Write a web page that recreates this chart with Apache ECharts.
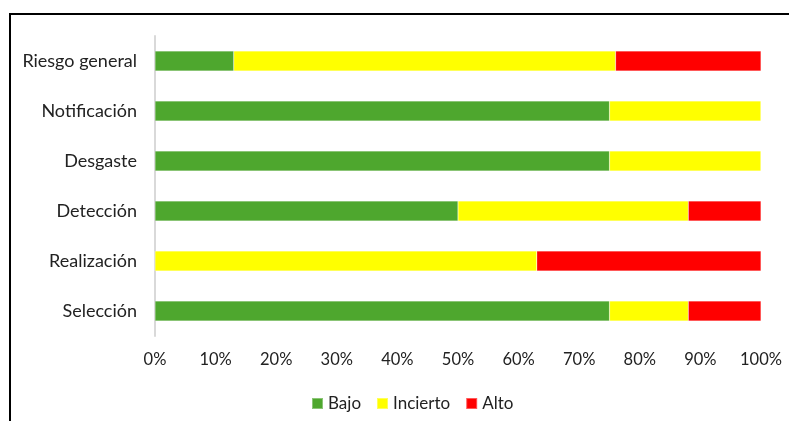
<!DOCTYPE html>
<html>
<head>
<meta charset="utf-8">
<script src="https://cdn.jsdelivr.net/npm/echarts@6/dist/echarts.min.js"></script>
<style>
  html, body { margin: 0; padding: 0; background: #fff; }
  #main { width: 789px; height: 421px; }
</style>
</head>
<body>
<div id="main"></div>
<script>
// categorias de abajo hacia arriba (el eje y de echarts empieza abajo)
var categorias = ['Selección', 'Realización', 'Detección', 'Desgaste', 'Notificación', 'Riesgo general'];
var bajo     = [75, 0, 50, 75, 75, 13];
var incierto = [13, 63, 38, 25, 25, 63];
var alto     = [12, 37, 12, 0, 0, 24];
var ticks = ['0%', '10%', '20%', '30%', '40%', '50%', '60%', '70%', '80%', '90%', '100%'];

var myChart = echarts.init(document.getElementById('main'));

var fuente = 'Lato';

function serie(nombre, datos, color) {
    return {
        name: nombre,
        type: 'bar',
        stack: 'total',
        barWidth: '40%',
        data: datos,
        itemStyle: { color: color, borderColor: 'rgba(255,255,255,0.35)', borderWidth: 0.5 }
    };
}

var option = {
    animation: false,
    textStyle: { fontFamily: fuente },
    graphic: [{
        type: 'rect',
        shape: { x: 10, y: 14, width: 800, height: 420 },
        style: { fill: 'none', stroke: '#000', lineWidth: 2 }
    }],
    grid: { left: 155, right: 28, top: 36, bottom: 85 },
    legend: {
        bottom: 4,
        left: 306,
        itemWidth: 11,
        itemHeight: 11,
        itemGap: 15,
        icon: 'rect',
        textStyle: { fontSize: 17, color: '#222', fontFamily: fuente },
        data: ['Bajo', 'Incierto', 'Alto']
    },
    xAxis: {
        type: 'value',
        min: 0,
        max: 100,
        interval: 10,
        axisLine: { show: false },
        axisTick: { show: false },
        splitLine: { show: false },
        axisLabel: {
            fontSize: 16.5,
            color: '#222',
            margin: 15,
            formatter: function (v) { return ticks[Math.round(v / 10)]; }
        }
    },
    yAxis: {
        type: 'category',
        data: categorias,
        axisLine: { show: true, lineStyle: { color: '#d9d9d9', width: 2 } },
        axisTick: { show: false },
        axisLabel: { fontSize: 18, color: '#222', margin: 18 }
    },
    series: [
        serie('Bajo', bajo, '#4ea72e'),
        serie('Incierto', incierto, '#ffff00'),
        serie('Alto', alto, '#ff0000')
    ]
};

myChart.setOption(option);
</script>
</body>
</html>
